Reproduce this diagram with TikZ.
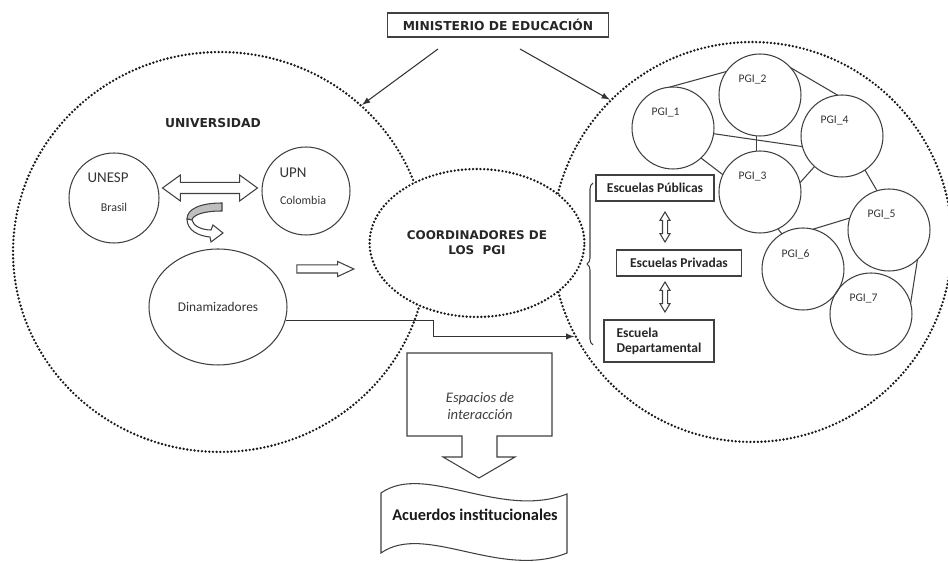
\documentclass[tikz,border=0pt]{standalone}
\usepackage{fontspec}
\setmainfont{Carlito}
\newfontfamily\headfont{DejaVu Sans}
\usetikzlibrary{shapes.geometric, shapes.arrows, decorations.pathreplacing, arrows}

\tikzset{
	zone/.style={draw=black!90, line width=1.5pt, line cap=round, dash pattern=on 0pt off 2.1pt},
	title/.style={font=\headfont\bfseries\fontsize{7}{8.5}\selectfont, text=black!85},
	inst/.style={circle, draw=black!75, line width=0.6pt, inner sep=0pt},
	insttext/.style={font=\fontsize{8.5}{10}\selectfont, text=black!80},
	instsub/.style={font=\fontsize{6.8}{8}\selectfont, text=black!80},
	pgi/.style={circle, draw=black!75, line width=0.6pt, minimum size=1.64cm, inner sep=0pt, outer sep=0pt},
	pgitext/.style={xshift=-0.15cm, yshift=0.3cm, font=\fontsize{6.6}{8}\selectfont, text=black!80},
	school/.style={draw=black!75, line width=0.6pt, font=\bfseries\fontsize{7.7}{8.5}\selectfont, inner sep=0pt, text=black!85},
	link/.style={draw=black!75, line width=0.6pt},
	conn/.style={draw=black!80, line width=0.6pt, -latex},
	hollow/.style={draw=black!75, line width=0.6pt, fill=white},
}

\begin{document}
\begin{tikzpicture}[x=0.02cm, y=-0.02cm]
	\useasboundingbox (0,0) rectangle (948,563);

	% the two big zones and the coordinators
	\node[ellipse, zone, minimum width=8.28cm, minimum height=8cm] (univ) at (220,252) {};
	\node[circle, zone, minimum size=8cm, inner sep=0pt] (pgiz) at (752,242) {};
	\node[ellipse, zone, fill=white, minimum width=4.24cm, minimum height=2.96cm, align=center, title, font=\headfont\bfseries\fontsize{6.8}{8.5}\selectfont] (coord) at (477,243) {COORDINADORES DE\\LOS~~PGI};

	\node[draw=black!75, line width=0.6pt, title, minimum width=4.42cm, minimum height=0.48cm, inner sep=0pt] (min) at (498,25) {MINISTERIO DE EDUCACIÓN};
	\coordinate (m1) at (438,49);
	\coordinate (m2) at (520,49);
	\draw[conn] (m1) -- (univ.46);
	\draw[conn] (m2) -- (pgiz.135);

	% universidad
	\node[title] (univtitle) at (213,123) {UNIVERSIDAD};
	\node[inst, minimum size=1.8cm,
	label={[insttext, xshift=-0.12cm, yshift=0.4cm]center:UNESP},
	label={[instsub, yshift=-0.18cm]center:Brasil}] (unesp) at (114,198) {};
	\node[inst, minimum size=1.76cm,
	label={[insttext, xshift=-0.26cm, yshift=0.36cm]center:UPN},
	label={[instsub, xshift=-0.06cm, yshift=-0.18cm]center:Colombia}] (upn) at (306,191) {};
	\node[double arrow, hollow, minimum height=1.9cm, inner xsep=0pt, inner ysep=0.1cm,
	double arrow head extend=0.15cm, double arrow tip angle=72] (swap) at (210,188) {};

	\fill[black!25, draw=black!75, line width=0.6pt] (222,203) .. controls (200,203) and (187,209) .. (187,219) -- (192,220) .. controls (193,215) and (203,211) .. (222,211) -- cycle;
	\draw[hollow] (187,219) .. controls (187,230) and (198,236) .. (210,237) -- (211,242) -- (223,233) -- (213,225) -- (211,230) .. controls (202,230) and (193,226) .. (192,220) -- cycle;

	\node[ellipse, draw=black!75, line width=0.6pt, minimum width=2.76cm, minimum height=2.32cm, font=\fontsize{7.6}{9}\selectfont, text=black!80] (din) at (218,307) {Dinamizadores};
	\node[single arrow, hollow, minimum height=1.14cm, inner xsep=0pt, inner ysep=0.07cm,
	single arrow head extend=0.07cm, single arrow tip angle=50] (push) at (321,269) {};
	\draw[conn] (din.-11) -- ++(148,0) |- (pgiz.208);

	% escuelas
	\node[school, minimum width=2.36cm, minimum height=0.52cm] (pub) at (655,188) {Escuelas Públicas};
	\node[school, minimum width=2.5cm, minimum height=0.52cm] (priv) at (679,263) {Escuelas Privadas};
	\node[school, minimum width=2.2cm, minimum height=0.84cm, align=left, font=\bfseries\fontsize{7.7}{8.5}\selectfont] (dep) at (659,341) {Escuela\\Departamental};
	\node[double arrow, hollow, rotate=90, minimum height=0.6cm, inner xsep=0pt, inner ysep=0.04cm,
	double arrow head extend=0.05cm, double arrow tip angle=62] (pubpriv) at (665,227) {};
	\node[double arrow, hollow, rotate=90, minimum height=0.6cm, inner xsep=0pt, inner ysep=0.04cm,
	double arrow head extend=0.05cm, double arrow tip angle=62] (privdep) at (665,297) {};
	\draw[link, decorate, decoration={brace, amplitude=0.12cm}] (593,345) -- (593,183);

	% red de PGI
	\node[pgi, label={[pgitext]center:PGI\_1}] (p1) at (673,128) {};
	\node[pgi, label={[pgitext]center:PGI\_2}] (p2) at (760,95) {};
	\node[pgi, label={[pgitext]center:PGI\_3}] (p3) at (760,192) {};
	\node[pgi, label={[pgitext]center:PGI\_4}] (p4) at (842,136) {};
	\node[pgi, label={[pgitext]center:PGI\_5}] (p5) at (889,230) {};
	\node[pgi, label={[pgitext]center:PGI\_6}] (p6) at (803,269) {};
	\node[pgi, label={[pgitext]center:PGI\_7}] (p7) at (871,314) {};
	\draw[link] (p1.95) -- (p2.145);
	\draw[link] (p2.42) -- (p4.96);
	\draw[link] (p1.-8) -- (p4.195);
	\draw[link] (p2.265) -- (p3.95);
	\draw[link] (p1.-47) -- (p3.155);
	\draw[link] (p3.13) -- (p4.228);
	\draw[link] (p4.304) -- (p5.107);
	\draw[link] (p5.163) -- (p6.76);
	\draw[link] (p3.-64) -- (p6.121);
	\draw[link] (p5.-46) -- (p7.15);

	% espacios y acuerdos
	\draw[hollow] (407,353) -- (552,353) -- (552,436) -- (497,436) -- (497,457) -- (515,457) -- (479,478) -- (443,457) -- (462,457) -- (462,436) -- (407,436) -- cycle;
	\node[font=\itshape\fontsize{8.3}{9.6}\selectfont, align=center, text=black!75] (esp) at (480,406) {Espacios de\\interacción};
	\draw[hollow] (381,493) .. controls (425,462) and (500,520) .. (567,494) -- (567,553) .. controls (500,580) and (425,522) .. (381,553) -- cycle;
	\node[font=\bfseries\fontsize{9.3}{11}\selectfont, text=black!90] (acu) at (475,515) {Acuerdos institucionales};
\end{tikzpicture}
\end{document}
